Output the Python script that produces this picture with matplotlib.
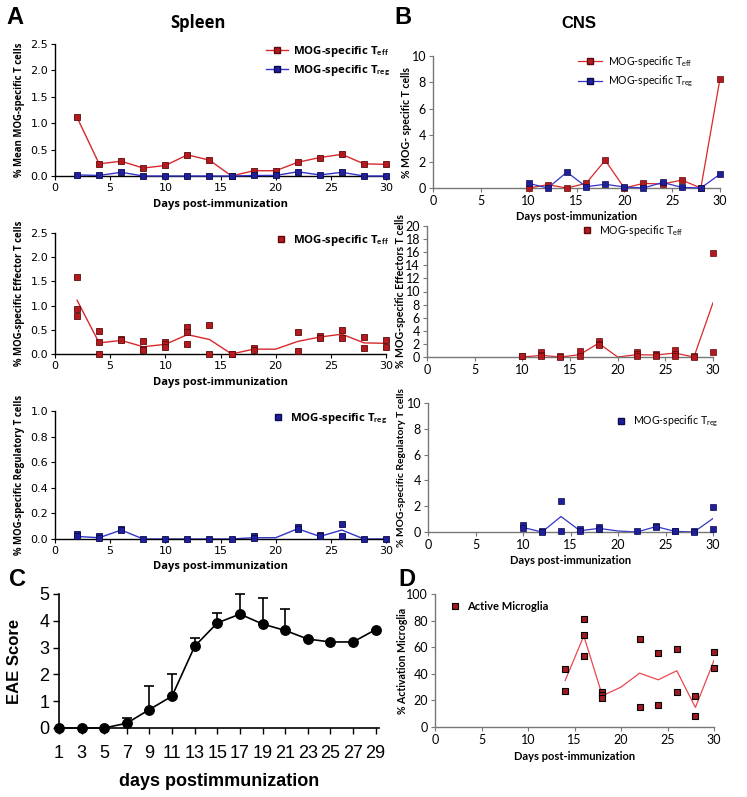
import numpy as np
import matplotlib
matplotlib.use("Agg")
from matplotlib import pyplot as plt
from matplotlib.lines import Line2D

plt.rcParams['mathtext.fontset'] = 'custom'
plt.rcParams['mathtext.rm'] = 'Open Sans'
plt.rcParams['mathtext.bf'] = 'Open Sans:bold'
plt.rcParams['mathtext.it'] = 'Open Sans'

W, H = 747, 797

# ---------- data ----------
days = [2, 4, 6, 8, 10, 12, 14, 16, 18, 20, 22, 24, 26, 28, 30]
spleen_teff_mean = [1.11, 0.23, 0.28, 0.15, 0.20, 0.40, 0.30, 0.0, 0.10, 0.10, 0.26, 0.35, 0.41, 0.23, 0.22]
spleen_treg_mean = [0.02, 0.01, 0.07, 0.0, 0.0, 0.0, 0.0, 0.0, 0.01, 0.01, 0.08, 0.02, 0.07, 0.0, 0.0]

spleen_teff_day = [2, 2, 2, 4, 4, 4, 6, 6, 8, 8, 8, 10, 10, 10, 12, 12, 12, 14, 14, 16, 16,
                   18, 18, 22, 22, 24, 24, 26, 26, 28, 28, 30, 30]
spleen_teff_val = [1.60, 0.93, 0.78, 0.47, 0.24, 0.0, 0.31, 0.28, 0.27, 0.10, 0.09, 0.25, 0.21, 0.14,
                   0.55, 0.45, 0.21, 0.60, 0.0, 0.0, 0.0, 0.13, 0.09, 0.46, 0.06, 0.37, 0.34,
                   0.50, 0.34, 0.35, 0.12, 0.29, 0.15]

spleen_treg_day = [2, 2, 4, 4, 6, 6, 8, 10, 12, 14, 16, 18, 18, 22, 22, 24, 24, 26, 26, 28, 30]
spleen_treg_val = [0.04, 0.02, 0.02, 0.01, 0.08, 0.07, 0.0, 0.0, 0.0, 0.0, 0.0, 0.02, 0.01,
                   0.09, 0.08, 0.03, 0.02, 0.12, 0.02, 0.0, 0.0]

cns_days = [10, 12, 14, 16, 18, 20, 22, 24, 26, 28, 30]
cns_teff_mean = [0.0, 0.25, 0.0, 0.35, 2.1, 0.0, 0.35, 0.3, 0.6, 0.0, 8.28]
cns_treg_mean = [0.35, 0.0, 1.2, 0.1, 0.28, 0.08, 0.0, 0.42, 0.05, 0.0, 1.05]

cns_teff_day = [10, 10, 12, 12, 12, 14, 14, 16, 16, 18, 18, 18, 22, 22, 22, 24, 24, 24,
                26, 26, 26, 28, 28, 30, 30]
cns_teff_val = [0.1, 0.2, 0.75, 0.3, 0.1, 0.1, 0.05, 0.96, 0.2, 2.4, 2.0, 1.8, 0.7, 0.4, 0.1,
                0.5, 0.3, 0.1, 1.1, 0.5, 0.2, 0.1, 0.0, 15.9, 0.76]

cns_treg_day = [10, 10, 12, 12, 14, 14, 16, 16, 18, 18, 22, 24, 24, 26, 26, 28, 28, 30, 30]
cns_treg_val = [0.52, 0.34, 0.05, 0.0, 2.42, 0.05, 0.25, 0.05, 0.4, 0.2, 0.05, 0.5, 0.35,
                0.1, 0.05, 0.05, 0.0, 1.92, 0.21]

eae_days = [1, 3, 5, 7, 9, 11, 13, 15, 17, 19, 21, 23, 25, 27, 29]
eae_score = [0, 0, 0, 0.18, 0.69, 1.19, 3.05, 3.92, 4.25, 3.88, 3.64, 3.32, 3.21, 3.21, 3.67]
eae_err_up = [0, 0, 0, 0.19, 0.86, 0.84, 0.30, 0.36, 0.75, 0.96, 0.79, 0, 0, 0, 0]

micro_days = [14, 16, 18, 20, 22, 24, 26, 28, 30]
micro_mean = [35, 68.5, 23.5, 30, 40.5, 35.5, 42.3, 14.7, 50]
micro_pt_day = [14, 14, 16, 16, 16, 18, 18, 18, 22, 22, 24, 24, 26, 26, 28, 28, 30, 30]
micro_pt_val = [43.6, 26.8, 81.2, 69.4, 53.1, 26.3, 23.8, 21.5, 66.2, 15.3, 55.4, 16.3,
                58.4, 26.3, 23.0, 8.0, 56.6, 44.1]

# ---------- styles ----------
RED_LINE = '#d8282c'
RED_FACE = '#b3191f'
RED_EDGE = '#5c0a0a'
BLUE_LINE = '#3434c8'
BLUE_FACE = '#1f1f9a'
BLUE_EDGE = '#0a0a4c'

FA = 'Open Sans'   # bold labels of panel A
FB = 'Lato'        # lighter labels of panels B and D


def axes_px(left, top, right, bottom):
    a = fig.add_axes([left / W, 1 - bottom / H, (right - left) / W, (bottom - top) / H])
    a._wpx = right - left
    return a


def style(ax, spine_color, tick_font, tick_size):
    for s in ['top', 'right']:
        ax.spines[s].set_visible(False)
    for s in ['left', 'bottom']:
        ax.spines[s].set_color(spine_color)
        ax.spines[s].set_linewidth(1.0)
    ax.tick_params(direction='out', length=3, width=0.8, color=spine_color, pad=2,
                   labelsize=tick_size)
    for lab in ax.get_xticklabels() + ax.get_yticklabels():
        lab.set_fontfamily(tick_font)


def ylabel_px(ax, text, offset, font, size):
    ax.set_ylabel(text, family=font, weight='bold', size=size, va='center')
    ax.yaxis.set_label_coords(-offset / ax._wpx, 0.5)


def legend_px(ax, handles, labels, x, y, size, font, weight, spacing=0.4, hl=2.0):
    leg = ax.legend(handles, labels, loc='upper left', bbox_to_anchor=(x / W, 1 - y / H),
                    bbox_transform=fig.transFigure, frameon=False, borderpad=0,
                    borderaxespad=0, handlelength=hl, handletextpad=0.5,
                    labelspacing=spacing, prop={'family': font, 'size': size, 'weight': weight})
    return leg


fig = plt.figure(figsize=(W / 100, H / 100), dpi=100)

# ---------- A1 ----------
ax = axes_px(55, 44, 386, 176)
ax.plot(days, spleen_teff_mean, '-s', color=RED_LINE, lw=1.0, ms=4.5,
        mfc=RED_FACE, mec=RED_EDGE, mew=0.6, clip_on=False, zorder=3)
ax.plot(days, spleen_treg_mean, '-s', color=BLUE_LINE, lw=1.0, ms=4.5,
        mfc=BLUE_FACE, mec=BLUE_EDGE, mew=0.6, clip_on=False, zorder=3)
ax.set_xlim(0, 30)
ax.set_ylim(0, 2.5)
ax.set_xticks(range(0, 31, 5))
ax.set_yticks(np.arange(0, 2.51, 0.5))
ax.set_yticklabels(['%.1f' % v for v in np.arange(0, 2.51, 0.5)])
style(ax, 'black', 'DejaVu Sans', 8)
ax.set_xlabel('Days post-immunization', family=FA, weight='bold', size=8, labelpad=4)
ylabel_px(ax, '% Mean MOG-specific T cells', 35, FA, 6.9)
h1 = Line2D([], [], color=RED_LINE, marker='s', ms=4.5, mfc=RED_FACE, mec=RED_EDGE, lw=1.0)
h2 = Line2D([], [], color=BLUE_LINE, marker='s', ms=4.5, mfc=BLUE_FACE, mec=BLUE_EDGE, lw=1.0)
legend_px(ax, [h1, h2], [r'MOG-specific T$_{\mathbf{eff}}$', r'MOG-specific T$_{\mathbf{reg}}$'],
          266, 44, 8.2, FA, 'bold', spacing=0.4, hl=1.9)

# ---------- A2 ----------
ax = axes_px(55, 233, 386, 354)
ax.plot(days, spleen_teff_mean, '-', color=RED_LINE, lw=1.0, zorder=2)
ax.plot(spleen_teff_day, spleen_teff_val, 's', ms=4.5, mfc=RED_FACE, mec=RED_EDGE,
        mew=0.6, ls='none', clip_on=False, zorder=3)
ax.set_xlim(0, 30)
ax.set_ylim(0, 2.5)
ax.set_xticks(range(0, 31, 5))
ax.set_yticks(np.arange(0, 2.51, 0.5))
ax.set_yticklabels(['%.1f' % v for v in np.arange(0, 2.51, 0.5)])
style(ax, 'black', 'DejaVu Sans', 8)
ax.set_xlabel('Days post-immunization', family=FA, weight='bold', size=8, labelpad=4)
ylabel_px(ax, '% MOG-specific Effector T cells', 35, FA, 6.9)
h = Line2D([], [], marker='s', ms=4.5, mfc=RED_FACE, mec=RED_EDGE, ls='none')
legend_px(ax, [h], [r'MOG-specific T$_{\mathbf{eff}}$'], 274, 233, 8.2, FA, 'bold', hl=1.2)

# ---------- A3 ----------
ax = axes_px(55, 411, 386, 539)
ax.plot(days, spleen_treg_mean, '-', color=BLUE_LINE, lw=1.0, zorder=2)
ax.plot(spleen_treg_day, spleen_treg_val, 's', ms=4.5, mfc=BLUE_FACE, mec=BLUE_EDGE,
        mew=0.6, ls='none', clip_on=False, zorder=3)
ax.set_xlim(0, 30)
ax.set_ylim(0, 1.0)
ax.set_xticks(range(0, 31, 5))
ax.set_yticks(np.arange(0, 1.01, 0.2))
ax.set_yticklabels(['%.1f' % v for v in np.arange(0, 1.01, 0.2)])
style(ax, 'black', 'DejaVu Sans', 8)
ax.set_xlabel('Days post-immunization', family=FA, weight='bold', size=8, labelpad=4)
ylabel_px(ax, '% MOG-specific Regulatory T cells', 35, FA, 6.9)
legend_px(ax, [Line2D([], [], marker='s', ms=4.5, mfc=BLUE_FACE, mec=BLUE_EDGE, ls='none')],
          [r'MOG-specific T$_{\mathbf{reg}}$'], 271, 411, 8.2, FA, 'bold', hl=1.2)

# ---------- B1 ----------
plt.rcParams['mathtext.rm'] = 'Lato'
plt.rcParams['mathtext.bf'] = 'Lato:bold'
ax = axes_px(433, 56, 720, 188)
ax.plot(cns_days, cns_teff_mean, '-s', color=RED_LINE, lw=0.9, ms=4.5,
        mfc=RED_FACE, mec=RED_EDGE, mew=0.5, clip_on=False, zorder=3)
ax.plot(cns_days, cns_treg_mean, '-s', color=BLUE_LINE, lw=0.9, ms=4.5,
        mfc=BLUE_FACE, mec=BLUE_EDGE, mew=0.5, clip_on=False, zorder=3)
ax.set_xlim(0, 30)
ax.set_ylim(0, 10)
ax.set_xticks(range(0, 31, 5))
ax.set_yticks(range(0, 11, 2))
style(ax, '#777777', FB, 9)
ax.set_xlabel('Days post-immunization', family=FB, weight='bold', size=8, labelpad=3)
ylabel_px(ax, '% MOG- specific T cells', 26, FB, 7.6)
h1 = Line2D([], [], color=RED_LINE, marker='s', ms=4.5, mfc=RED_FACE, mec=RED_EDGE, lw=0.9)
h2 = Line2D([], [], color=BLUE_LINE, marker='s', ms=4.5, mfc=BLUE_FACE, mec=BLUE_EDGE, lw=0.9)
legend_px(ax, [h1, h2], [r'MOG-specific T$_{\mathrm{eff}}$', r'MOG-specific T$_{\mathrm{reg}}$'],
          578, 54, 7.6, FB, 'normal', spacing=0.45, hl=2.3)

# ---------- B2 ----------
ax = axes_px(427, 226, 713, 357)
ax.plot(cns_days, cns_teff_mean, '-', color=RED_LINE, lw=0.9, zorder=2)
ax.plot(cns_teff_day, cns_teff_val, 's', ms=4.5, mfc=RED_FACE, mec=RED_EDGE,
        mew=0.5, ls='none', clip_on=False, zorder=3)
ax.set_xlim(0, 30)
ax.set_ylim(0, 20)
ax.set_xticks(range(0, 31, 5))
ax.set_yticks(range(0, 21, 2))
style(ax, '#777777', FB, 9)
ylabel_px(ax, '% MOG-specific Effectors T cells', 27, FB, 7.6)
legend_px(ax, [Line2D([], [], marker='s', ms=4.5, mfc=RED_FACE, mec=RED_EDGE, ls='none')],
          [r'MOG-specific T$_{\mathrm{eff}}$'], 581, 223, 7.6, FB, 'normal', hl=1.2)

# ---------- B3 ----------
ax = axes_px(428, 403, 713, 532)
ax.plot(cns_days, cns_treg_mean, '-', color=BLUE_LINE, lw=0.9, zorder=2)
ax.plot(cns_treg_day, cns_treg_val, 's', ms=4.5, mfc=BLUE_FACE, mec=BLUE_EDGE,
        mew=0.5, ls='none', clip_on=False, zorder=3)
ax.set_xlim(0, 30)
ax.set_ylim(0, 10)
ax.set_xticks(range(0, 31, 5))
ax.set_yticks(range(0, 11, 2))
style(ax, '#777777', FB, 9)
ax.set_xlabel('Days post-immunization', family=FB, weight='bold', size=8, labelpad=3)
ylabel_px(ax, '% MOG-specific Regulatory T cells', 26, FB, 7.4)
legend_px(ax, [Line2D([], [], marker='s', ms=4.5, mfc=BLUE_FACE, mec=BLUE_EDGE, ls='none')],
          [r'MOG-specific T$_{\mathrm{reg}}$'], 615, 414, 7.6, FB, 'normal', hl=1.2)

# ---------- C ----------
ax = axes_px(59, 594, 379, 728)
ax.errorbar(eae_days, eae_score, yerr=[np.zeros(len(eae_err_up)), eae_err_up],
            fmt='-o', color='black', lw=1.2, ms=6.8, ecolor='black', elinewidth=1.2,
            capsize=3.5, capthick=1.2, clip_on=False, zorder=3)
ax.set_xlim(1, 29.3)
ax.set_ylim(0, 5)
ax.set_xticks(eae_days)
ax.set_yticks(range(0, 6))
for s in ['top', 'right']:
    ax.spines[s].set_visible(False)
ax.spines['left'].set_linewidth(1.2)
ax.spines['bottom'].set_linewidth(1.2)
ax.tick_params(direction='out', length=4, width=1.0, labelsize=13, pad=8)
for lab in ax.get_xticklabels() + ax.get_yticklabels():
    lab.set_fontfamily('Liberation Sans')
ax.tick_params(axis='y', pad=3)
ax.set_xlabel('days postimmunization', family='Liberation Sans', weight='bold', size=13, labelpad=8)
ylabel_px(ax, 'EAE Score', 44, 'Liberation Sans', 12)

# ---------- D ----------
ax = axes_px(435, 594, 714, 727)
ax.plot(micro_days, micro_mean, '-', color='#e8484e', lw=0.9, zorder=2)
ax.plot(micro_pt_day, micro_pt_val, 's', ms=4.5, mfc='#a01a22', mec='black',
        mew=0.8, ls='none', clip_on=False, zorder=3)
ax.set_xlim(0, 30)
ax.set_ylim(0, 100)
ax.set_xticks(range(0, 31, 5))
ax.set_yticks(range(0, 101, 20))
style(ax, '#777777', FB, 9)
ax.set_xlabel('Days post-immunization', family=FB, weight='bold', size=8, labelpad=4)
ylabel_px(ax, '% Activation Microglia', 33, FB, 7.6)
legend_px(ax, [Line2D([], [], marker='s', ms=4.5, mfc='#a01a22', mec='black', mew=0.8, ls='none')],
          ['Active Microglia'], 448, 601, 8, FB, 'bold', hl=1.2)

# ---------- panel letters and titles ----------
for letter, x, y in [('A', 15, 18), ('B', 403, 18), ('C', 17, 580), ('D', 407, 580)]:
    fig.text(x / W, 1 - y / H, letter, family='Liberation Sans', weight='bold', size=17,
             ha='center', va='center')
fig.text(198 / W, 1 - 23 / H, 'Spleen', family=FA, weight='bold', size=12, ha='center', va='center')
fig.text(579 / W, 1 - 23 / H, 'CNS', family='Liberation Sans', weight='bold', size=12,
         ha='center', va='center')

fig.savefig('out.png', dpi=100)
